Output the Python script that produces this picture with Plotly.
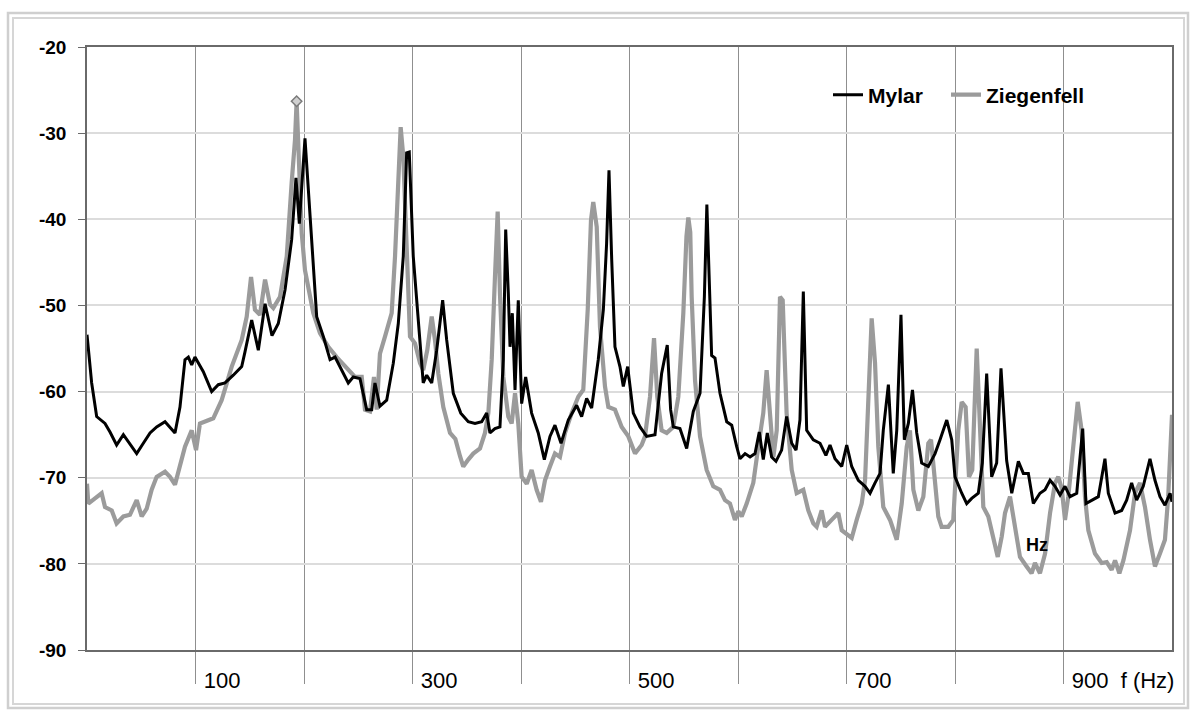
import plotly.graph_objects as go

# ---------------- data ----------------
mylar_freq = [0, 4.3, 8.9, 16.6, 21.2, 27.3, 33.5, 41.2, 45.8, 51.9, 58.1, 64.2, 71.9, 81.1, 85.7, 90.3, 93.4, 96.5,
              99.5, 107.2, 114.9, 121.0, 127.2, 134.8, 142.6, 145.6, 151.8, 157.9, 164.1, 170.5, 176.3, 182.5, 188.6,
              192.6, 195.7, 200.9, 204.0, 207.1, 211.7, 217.8, 224.0, 228.6, 233.2, 240.8, 245.4, 251.6, 257.8, 262.4,
              265.4, 270.0, 276.2, 282.3, 286.9, 291.5, 294.6, 297.0, 300.7, 305.3, 309.9, 313.1, 317.7, 322.3, 327.8,
              331.5, 337.6, 344.5, 351.4, 357.6, 363.8, 368.4, 371.4, 376.0, 380.6, 383.7, 385.9, 388.3, 389.9, 392.0,
              394.5, 397.5, 400.6, 404.3, 409.8, 415.9, 421.5, 426.7, 431.3, 436.9, 443.6, 451.3, 455.9, 460.5, 465.1,
              471.2, 475.9, 478.9, 481.1, 483.6, 486.6, 491.2, 494.3, 498.3, 503.5, 509.7, 515.8, 523.5, 529.6, 534.8,
              537.9, 540.4, 546.5, 552.7, 558.8, 565.0, 569.0, 571.3, 573.5, 575.7, 578.8, 583.4, 589.6, 594.2, 598.8,
              601.8, 606.5, 611.1, 615.7, 619.6, 623.3, 627.0, 631.0, 635.0, 640.2, 644.8, 649.5, 653.5, 657.1, 660.2,
              663.3, 669.4, 675.6, 681.0, 684.8, 689.4, 695.6, 700.2, 704.8, 710.9, 717.1, 721.7, 726.3, 730.9, 733.9,
              738.6, 743.1, 746.3, 750.2, 753.3, 757.0, 760.8, 764.7, 769.3, 775.4, 781.6, 786.2, 792.4, 797.0, 800.0,
              806.2, 810.8, 815.4, 821.5, 825.2, 829.2, 833.8, 838.4, 842.4, 847.6, 852.3, 858.4, 863.0, 867.6, 872.2,
              878.3, 883.0, 887.6, 892.2, 896.8, 901.4, 906.0, 912.2, 917.7, 920.7, 926.0, 932.1, 938.2, 941.3, 947.5,
              953.6, 958.2, 962.8, 967.4, 973.5, 979.7, 984.3, 988.9, 993.5, 998.2, 1000]
mylar_db = [-53.4, -59.0, -62.9, -63.7, -64.7, -66.2, -65.0, -66.4, -67.2, -66.0, -64.8, -64.1, -63.5, -64.8, -61.8,
            -56.3, -56.0, -56.9, -56.0, -57.7, -60.0, -59.2, -59.0, -58.1, -57.1, -55.4, -51.7, -55.2, -49.8, -53.5,
            -52.1, -48.2, -42.4, -35.2, -40.5, -30.6, -36.6, -43.6, -51.3, -53.6, -56.3, -56.0, -57.1, -59.0, -58.3,
            -58.5, -62.1, -62.1, -59.0, -61.7, -61.0, -56.7, -52.1, -44.3, -32.3, -32.2, -44.3, -52.1, -59.0, -58.1,
            -59.0, -55.2, -49.4, -54.0, -60.2, -62.5, -63.5, -63.7, -63.5, -62.5, -64.8, -64.3, -64.1, -56.3, -41.2,
            -48.6, -54.8, -50.9, -59.8, -49.4, -61.4, -58.3, -62.5, -64.8, -67.9, -65.2, -63.9, -66.0, -63.3, -61.6,
            -62.9, -60.8, -61.9, -56.3, -50.5, -42.8, -34.3, -44.7, -54.8, -57.1, -59.4, -57.1, -62.5, -64.1, -65.2,
            -65.0, -57.9, -54.6, -62.1, -64.1, -64.3, -66.6, -62.3, -60.2, -49.0, -38.3, -47.0, -55.8, -56.1, -60.2,
            -63.5, -63.9, -66.4, -67.8, -67.2, -67.6, -67.2, -64.7, -67.9, -64.8, -67.6, -68.1, -66.8, -62.9, -66.0,
            -66.8, -63.3, -48.4, -64.5, -65.6, -66.0, -67.4, -66.2, -67.8, -68.7, -66.2, -68.7, -70.3, -71.0, -71.8,
            -70.6, -69.5, -64.5, -59.2, -69.5, -64.5, -51.1, -65.6, -63.7, -59.8, -64.8, -68.3, -68.7, -67.2, -65.6,
            -63.3, -65.6, -69.9, -71.8, -73.0, -72.4, -71.8, -68.3, -57.9, -69.9, -68.3, -57.3, -68.0, -71.8, -68.1,
            -69.5, -69.5, -73.0, -71.8, -71.4, -70.3, -71.0, -72.0, -71.0, -72.2, -71.8, -64.3, -73.0, -72.6, -72.2,
            -67.8, -71.8, -74.1, -73.8, -72.6, -70.6, -72.6, -71.0, -67.8, -70.3, -72.2, -73.2, -71.8, -72.8]

ziegen_freq = [0, 1.2, 7.4, 13.5, 16.6, 22.8, 27.3, 33.5, 39.6, 45.8, 50.4, 55.0, 59.6, 64.2, 71.9, 76.5, 81.1, 85.7,
               90.3, 96.5, 100.5, 104.1, 111.8, 116.4, 124.1, 133.4, 142.6, 147.2, 151.2, 154.8, 159.4, 164.1, 168.7,
               171.7, 177.9, 184.1, 188.6, 191.7, 193.2, 196.3, 197.9, 200.9, 204.0, 208.6, 214.7, 222.4, 230.1, 239.4,
               247.0, 253.2, 256.2, 260.8, 264.5, 267.0, 270.0, 274.7, 280.8, 283.9, 286.9, 289.1, 291.5, 294.6, 297.7,
               302.3, 306.9, 309.9, 313.6, 317.7, 320.7, 323.8, 328.4, 334.6, 339.5, 343.8, 346.8, 351.4, 356.0, 362.2,
               366.8, 369.9, 373.0, 376.0, 378.5, 380.6, 383.7, 388.3, 391.4, 394.5, 397.5, 400.6, 405.3, 409.8, 414.4,
               418.4, 422.1, 426.7, 431.3, 435.9, 440.6, 446.7, 452.8, 457.4, 461.5, 464.5, 466.6, 469.8, 472.8, 477.4,
               480.5, 486.6, 492.8, 498.9, 505.1, 511.2, 514.3, 518.9, 522.6, 525.6, 529.6, 534.3, 540.4, 545.0, 549.6,
               552.5, 554.2, 556.0, 557.3, 560.4, 565.0, 571.1, 577.2, 583.4, 588.0, 592.6, 597.2, 600.3, 603.4, 608.0,
               614.1, 618.7, 623.3, 626.4, 629.5, 632.6, 635.7, 638.7, 641.2, 644.8, 649.5, 654.1, 660.2, 664.8, 669.4,
               672.5, 677.1, 680.2, 686.3, 692.5, 695.6, 700.2, 704.8, 709.4, 714.0, 717.1, 720.1, 723.2, 726.3, 729.3,
               733.9, 740.1, 746.3, 750.9, 755.5, 758.5, 761.6, 766.2, 770.8, 775.4, 777.9, 781.6, 784.6, 787.7, 793.8,
               798.4, 803.0, 806.2, 809.8, 812.9, 815.9, 820.0, 823.0, 826.1, 830.7, 835.3, 839.4, 843.1, 846.1, 850.7,
               855.3, 859.9, 866.0, 870.6, 873.7, 878.3, 883.0, 887.6, 892.2, 895.2, 898.3, 901.4, 904.4, 909.0, 913.1,
               916.7, 919.8, 922.9, 929.0, 935.2, 939.8, 944.4, 947.5, 951.5, 955.2, 961.3, 965.9, 970.5, 975.1, 979.7,
               984.3, 988.9, 993.5, 996.5, 1000]
ziegen_db = [-70.7, -73.0, -72.4, -71.8, -73.4, -73.8, -75.3, -74.5, -74.3, -72.6, -74.5, -73.6, -71.4, -69.9, -69.3,
             -69.9, -70.8, -68.7, -66.4, -64.5, -66.8, -63.7, -63.3, -63.1, -61.0, -57.1, -54.0, -51.3, -46.7, -50.5,
             -51.1, -47.0, -49.9, -50.3, -49.0, -44.3, -35.8, -30.8, -26.3, -34.7, -41.6, -45.9, -47.8, -50.9, -53.2,
             -54.8, -56.0, -57.3, -58.3, -58.3, -62.1, -62.3, -58.3, -62.1, -55.6, -53.6, -50.9, -44.3, -34.7, -29.3,
             -32.7, -43.6, -53.6, -54.4, -56.7, -57.5, -55.2, -51.3, -54.0, -57.9, -61.8, -64.8, -65.5, -67.5, -68.7,
             -67.9, -67.2, -66.6, -64.8, -62.5, -56.3, -46.7, -39.1, -48.6, -58.3, -62.9, -63.7, -60.2, -63.7, -69.9,
             -70.7, -69.1, -71.4, -72.8, -70.3, -68.7, -67.2, -67.6, -64.8, -62.5, -60.6, -59.8, -50.5, -40.1, -38.0,
             -40.9, -52.5, -59.4, -61.8, -62.1, -64.1, -65.2, -67.2, -66.2, -65.2, -60.6, -53.8, -60.6, -64.5, -64.8,
             -64.1, -60.6, -50.9, -42.0, -39.8, -41.5, -49.0, -58.7, -65.2, -69.1, -71.0, -71.4, -72.6, -73.0, -74.9,
             -73.9, -74.5, -73.0, -70.6, -66.4, -62.5, -57.5, -62.9, -67.6, -64.5, -49.0, -49.4, -62.5, -69.1, -71.8,
             -71.4, -73.8, -75.3, -75.7, -73.8, -75.7, -74.9, -74.1, -76.1, -76.5, -77.0, -74.9, -73.0, -70.3, -60.6,
             -51.5, -56.7, -66.4, -73.4, -74.9, -77.2, -73.0, -66.4, -64.5, -71.4, -73.8, -72.2, -66.0, -65.6, -69.9,
             -74.5, -75.7, -75.7, -74.9, -64.5, -61.2, -61.8, -69.9, -69.1, -55.0, -64.5, -73.4, -74.5, -76.8, -79.2,
             -76.8, -74.1, -72.2, -75.7, -79.2, -80.3, -81.1, -79.9, -81.1, -78.8, -74.1, -70.6, -69.9, -71.2, -74.9,
             -72.2, -66.4, -61.2, -64.5, -72.2, -76.1, -78.8, -79.9, -79.8, -80.7, -79.6, -81.1, -79.6, -76.1, -71.8,
             -70.6, -73.4, -77.2, -80.3, -78.8, -77.2, -72.2, -62.7]

x_tick_values = [100, 200, 300, 400, 500, 600, 700, 800, 900]
x_tick_labels = ["100", "", "300", "", "500", "", "700", "", "900\u00a0\u00a0f\u00a0(Hz)"]
y_tick_values = [-20, -30, -40, -50, -60, -70, -80, -90]
y_tick_labels = ["-20", "-30", "-40", "-50", "-60", "-70", "-80", "-90"]
series_names = ["Mylar", "Ziegenfell"]

# ---------------- geometry helpers (pixel -> paper) ----------------
W, H = 1192, 711
L, R, T, B = 87, 20, 47, 61
PW, PH = W - L - R, H - T - B


def px(x):
    return (x - L) / PW


def py(y):
    return 1 - (y - T) / PH


FONT = "Liberation Sans, Arial, sans-serif"

fig = go.Figure()

fig.add_trace(go.Scatter(
    x=ziegen_freq, y=ziegen_db, name=series_names[1], mode="lines",
    line=dict(color="#9b9b9b", width=4.2), legend="legend2"))
fig.add_trace(go.Scatter(
    x=mylar_freq, y=mylar_db, name=series_names[0], mode="lines",
    line=dict(color="#000000", width=3), legend="legend"))

# marker on the highest point of the Ziegenfell curve
imax = max(range(len(ziegen_db)), key=lambda i: ziegen_db[i])
fig.add_trace(go.Scatter(
    x=[ziegen_freq[imax]], y=[ziegen_db[imax]], mode="markers", showlegend=False,
    marker=dict(symbol="diamond", size=8, color="#d0d0d0", line=dict(color="#7a7a7a", width=1.5))))

shapes = [
    # outer double frame of the chart area
    dict(type="rect", xref="paper", yref="paper", x0=px(8), x1=px(1188), y0=py(708), y1=py(13),
         line=dict(color="#cfcfcf", width=2.5), fillcolor="rgba(0,0,0,0)", layer="below"),
    dict(type="rect", xref="paper", yref="paper", x0=px(13), x1=px(1184), y0=py(704), y1=py(18),
         line=dict(color="#d6d6d6", width=2), fillcolor="rgba(0,0,0,0)", layer="below"),
    # vertical grid lines stop a little below the top border
    dict(type="rect", xref="paper", yref="paper", x0=0, x1=1, y0=py(60), y1=1,
         line=dict(width=0), fillcolor="white", layer="between"),
    # legend background
    dict(type="rect", xref="paper", yref="paper", x0=px(742), x1=1, y0=py(131), y1=1,
         line=dict(width=0), fillcolor="white", layer="between"),
    dict(type="rect", xref="paper", yref="paper", x0=px(742), x1=1, y0=py(141), y1=py(135),
         line=dict(width=0), fillcolor="white", layer="between"),
]

legend_font = dict(family=FONT, size=21, color="black", weight="bold")

fig.update_layout(
    width=W, height=H,
    margin=dict(l=L, r=R, t=T, b=B),
    paper_bgcolor="white", plot_bgcolor="white",
    font=dict(family=FONT, color="black"),
    shapes=shapes,
    showlegend=True,
    legend=dict(orientation="h", x=px(828), y=py(95), xanchor="left", yanchor="middle",
                font=legend_font, bgcolor="rgba(0,0,0,0)", itemwidth=30),
    legend2=dict(orientation="h", x=px(946), y=py(95), xanchor="left", yanchor="middle",
                 font=legend_font, bgcolor="rgba(0,0,0,0)", itemwidth=30),
    annotations=[dict(x=876, y=-77.8, xref="x", yref="y", text="<b>Hz</b>", showarrow=False,
                      font=dict(family=FONT, size=18, color="black"))],
)

fig.update_xaxes(
    range=[0, 1000], tickvals=x_tick_values, ticktext=x_tick_labels,
    showgrid=True, gridcolor="#8f8f8f", gridwidth=1,
    ticks="outside", ticklen=32, tickwidth=1, tickcolor="#8f8f8f",
    ticklabelposition="outside right", ticklabelshift=7, ticklabelstandoff=10,
    tickfont=dict(family="Liberation Sans Narrow, Liberation Sans, Arial, sans-serif", size=22, color="black"),
    showline=True, linecolor="#6a6a6a", linewidth=1.5, mirror=True, zeroline=False,
)
fig.update_yaxes(
    range=[-90, -20], tickvals=y_tick_values, ticktext=y_tick_labels,
    showgrid=True, gridcolor="#dcdcdc", gridwidth=1.5,
    ticks="outside", ticklen=7, tickwidth=1.2, tickcolor="#6a6a6a",
    tickfont=dict(family=FONT, size=19, color="black", weight="bold"),
    ticklabelstandoff=8,
    showline=True, linecolor="#6a6a6a", linewidth=1.5, mirror=True, zeroline=False,
)

fig.write_html("out.html")
